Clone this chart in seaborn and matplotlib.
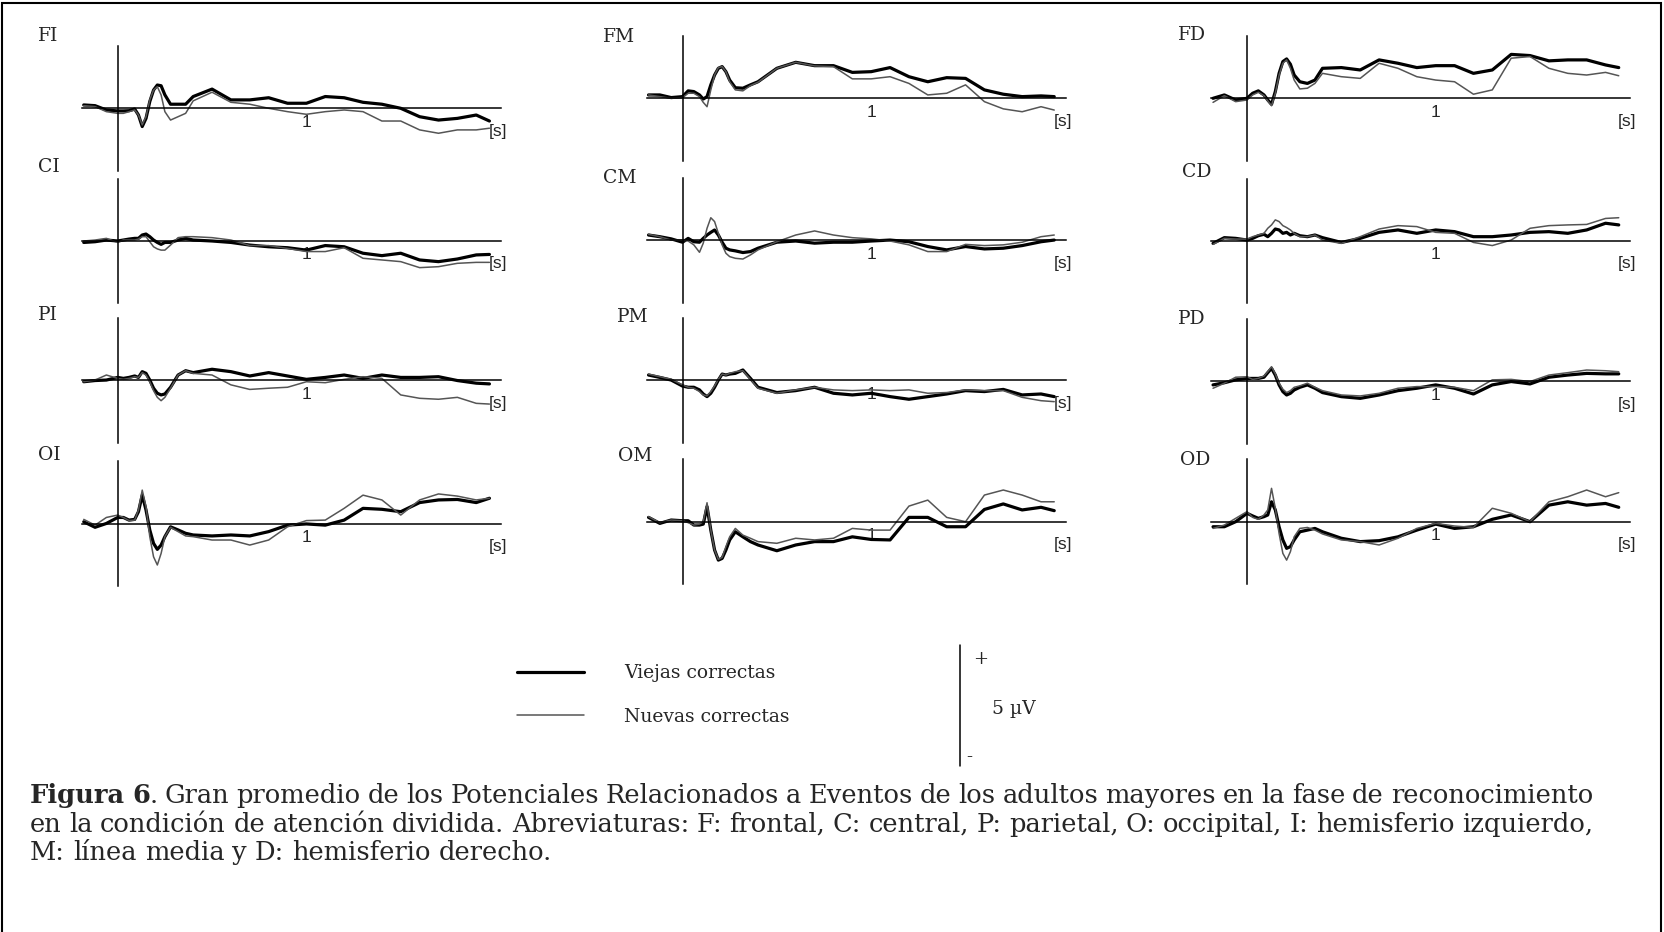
import matplotlib
matplotlib.use("Agg")
import matplotlib.pyplot as plt
from matplotlib.lines import Line2D
from matplotlib.patches import Rectangle
import seaborn as sns

# =========================
# DATA (time in s, amplitude in microvolts)
# =========================

t_s = [-0.18, -0.12, -0.06, 0.0, 0.03, 0.06, 0.09, 0.11, 0.13, 0.15, 0.17, 0.19,
       0.21, 0.23, 0.25, 0.28, 0.32, 0.36, 0.4, 0.5, 0.6, 0.7, 0.8, 0.9, 1.0,
       1.1, 1.2, 1.3, 1.4, 1.5, 1.6, 1.7, 1.8, 1.9, 1.97]

fi_viejas = [0.14, 0.11, -0.07, -0.11, -0.11, -0.1, -0.03, -0.28, -0.76, -0.42, 0.28, 0.76, 0.97, 0.94, 0.56, 0.17, 0.17, 0.17,
             0.49, 0.8, 0.35, 0.35, 0.44, 0.21, 0.21, 0.49, 0.44, 0.25, 0.17, 0.0, -0.35, -0.49, -0.42, -0.28, -0.53]
fi_nuevas = [0.11, 0.07, -0.14, -0.21, -0.21, -0.14, -0.07, -0.28, -0.69, -0.35, 0.35, 0.76, 0.9, 0.56, -0.14, -0.49, -0.35, -0.21,
             0.31, 0.67, 0.25, 0.17, 0.0, -0.14, -0.25, -0.14, -0.07, -0.14, -0.53, -0.53, -0.9, -1.04, -0.9, -0.9, -0.83]
fm_viejas = [0.14, 0.14, 0.03, 0.07, 0.31, 0.28, 0.14, -0.03, 0.07, 0.56, 0.97, 1.25, 1.32, 1.11, 0.76, 0.44, 0.42, 0.56,
             0.69, 1.25, 1.5, 1.36, 1.36, 1.08, 1.11, 1.28, 0.9, 0.69, 0.86, 0.83, 0.35, 0.17, 0.07, 0.1, 0.07]
fm_nuevas = [0.14, 0.07, 0.0, 0.03, 0.21, 0.21, 0.07, -0.17, -0.35, 0.35, 0.97, 1.28, 1.32, 1.11, 0.69, 0.35, 0.31, 0.53,
             0.67, 1.25, 1.5, 1.35, 1.32, 0.81, 0.81, 0.9, 0.62, 0.14, 0.21, 0.56, -0.14, -0.44, -0.56, -0.35, -0.49]
fd_viejas = [0.0, 0.14, -0.07, 0.0, 0.21, 0.31, 0.14, -0.07, -0.25, 0.28, 1.04, 1.53, 1.64, 1.42, 0.97, 0.69, 0.62, 0.76,
             1.25, 1.28, 1.18, 1.6, 1.46, 1.28, 1.36, 1.36, 1.04, 1.18, 1.83, 1.78, 1.56, 1.6, 1.6, 1.39, 1.28]
fd_nuevas = [-0.17, 0.11, -0.14, -0.07, 0.14, 0.25, 0.11, -0.11, -0.31, 0.21, 0.97, 1.46, 1.6, 1.25, 0.76, 0.39, 0.42, 0.62,
             1.04, 0.9, 0.83, 1.46, 1.25, 0.9, 0.76, 0.69, 0.17, 0.35, 1.67, 1.74, 1.25, 1.04, 0.97, 1.08, 0.94]

ci_viejas = [-0.06, -0.03, 0.04, 0.0, 0.04, 0.08, 0.11, 0.11, 0.25, 0.29, 0.18, 0.04, -0.06, -0.14, -0.06, -0.06, 0.04, 0.11,
             0.04, 0.0, -0.06, -0.17, -0.24, -0.28, -0.38, -0.19, -0.24, -0.51, -0.61, -0.51, -0.79, -0.86, -0.75, -0.58, -0.56]
ci_nuevas = [0.0, 0.04, 0.11, -0.06, 0.04, 0.04, 0.04, 0.08, 0.18, 0.18, -0.03, -0.24, -0.33, -0.38, -0.38, -0.17, 0.14, 0.18,
             0.18, 0.14, 0.04, -0.19, -0.19, -0.31, -0.44, -0.44, -0.28, -0.72, -0.79, -0.86, -1.11, -1.07, -0.93, -0.89, -0.89]
cm_viejas = [0.22, 0.15, 0.06, -0.08, 0.08, -0.06, -0.08, 0.08, 0.22, 0.33, 0.43, 0.22, -0.08, -0.33, -0.4, -0.44, -0.51, -0.47,
             -0.33, -0.08, -0.03, -0.12, -0.08, -0.08, -0.03, 0.01, -0.06, -0.26, -0.4, -0.26, -0.36, -0.33, -0.22, -0.06, 0.01]
cm_nuevas = [0.25, 0.15, 0.01, 0.01, -0.03, -0.19, -0.5, -0.12, 0.5, 0.94, 0.78, 0.29, -0.19, -0.54, -0.68, -0.75, -0.78, -0.61,
             -0.4, -0.06, 0.22, 0.39, 0.22, 0.11, 0.06, -0.03, -0.19, -0.47, -0.47, -0.17, -0.22, -0.19, -0.08, 0.15, 0.22]
cd_viejas = [-0.1, 0.14, 0.11, 0.04, 0.11, 0.22, 0.28, 0.18, 0.32, 0.5, 0.46, 0.32, 0.36, 0.25, 0.32, 0.22, 0.18, 0.25,
             0.14, -0.06, 0.11, 0.36, 0.46, 0.32, 0.46, 0.39, 0.18, 0.18, 0.25, 0.36, 0.39, 0.32, 0.46, 0.74, 0.67]
cd_nuevas = [-0.14, 0.11, 0.08, 0.08, 0.18, 0.25, 0.32, 0.53, 0.67, 0.88, 0.81, 0.64, 0.56, 0.46, 0.32, 0.18, 0.18, 0.25,
             0.04, -0.1, 0.18, 0.5, 0.64, 0.6, 0.36, 0.32, -0.06, -0.19, 0.04, 0.53, 0.64, 0.67, 0.69, 0.94, 0.97]

pi_viejas = [-0.06, -0.01, 0.01, 0.12, 0.08, 0.12, 0.18, 0.12, 0.36, 0.29, 0.01, -0.33, -0.54, -0.61, -0.57, -0.29, 0.22, 0.4,
             0.32, 0.46, 0.36, 0.18, 0.32, 0.18, 0.04, 0.12, 0.22, 0.08, 0.22, 0.12, 0.12, 0.15, -0.01, -0.12, -0.15]
pi_nuevas = [-0.06, 0.01, 0.22, 0.08, 0.04, 0.08, 0.15, 0.12, 0.32, 0.22, -0.06, -0.43, -0.71, -0.85, -0.71, -0.33, 0.22, 0.4,
             0.29, 0.22, -0.19, -0.38, -0.33, -0.29, -0.06, -0.1, 0.04, 0.15, 0.08, -0.61, -0.75, -0.79, -0.71, -0.96, -0.99]
pm_viejas = [0.22, 0.12, 0.01, -0.24, -0.29, -0.29, -0.4, -0.57, -0.68, -0.54, -0.29, 0.01, 0.26, 0.22, 0.26, 0.29, 0.43, 0.08,
             -0.29, -0.51, -0.43, -0.29, -0.54, -0.61, -0.54, -0.68, -0.79, -0.68, -0.57, -0.43, -0.47, -0.38, -0.61, -0.57, -0.68]
pm_nuevas = [0.26, 0.15, 0.04, -0.19, -0.29, -0.33, -0.47, -0.61, -0.65, -0.47, -0.24, 0.04, 0.26, 0.22, 0.29, 0.36, 0.4, 0.04,
             -0.33, -0.54, -0.4, -0.29, -0.4, -0.43, -0.4, -0.43, -0.4, -0.54, -0.51, -0.4, -0.43, -0.43, -0.71, -0.85, -0.89]
pd_viejas = [-0.15, -0.06, 0.06, 0.12, 0.12, 0.12, 0.17, 0.36, 0.54, 0.26, -0.15, -0.43, -0.57, -0.5, -0.36, -0.25, -0.15, -0.29,
             -0.47, -0.64, -0.71, -0.57, -0.39, -0.29, -0.15, -0.29, -0.53, -0.15, -0.01, -0.11, 0.17, 0.26, 0.33, 0.31, 0.31]
pd_nuevas = [-0.29, -0.08, 0.17, 0.19, 0.08, 0.12, 0.22, 0.4, 0.61, 0.31, -0.08, -0.33, -0.47, -0.39, -0.25, -0.19, -0.08, -0.25,
             -0.39, -0.57, -0.61, -0.5, -0.29, -0.22, -0.22, -0.25, -0.39, 0.06, 0.08, -0.01, 0.26, 0.36, 0.47, 0.44, 0.4]

oi_viejas = [0.08, -0.15, 0.01, 0.26, 0.26, 0.15, 0.18, 0.5, 1.19, 0.57, -0.26, -0.82, -1.07, -0.89, -0.54, -0.13, -0.26, -0.4,
             -0.47, -0.51, -0.47, -0.51, -0.33, -0.06, -0.01, -0.06, 0.15, 0.64, 0.6, 0.5, 0.88, 0.99, 1.01, 0.88, 1.06]
oi_nuevas = [0.18, -0.06, 0.26, 0.36, 0.26, 0.13, 0.15, 0.57, 1.4, 0.71, -0.54, -1.38, -1.72, -1.24, -0.54, -0.15, -0.33, -0.51,
             -0.54, -0.68, -0.68, -0.89, -0.68, -0.13, 0.13, 0.15, 0.64, 1.19, 0.99, 0.36, 0.99, 1.24, 1.15, 0.99, 1.06]
om_viejas = [0.18, -0.07, 0.07, 0.04, 0.04, -0.14, -0.14, -0.1, 0.63, -0.35, -1.18, -1.6, -1.53, -1.18, -0.76, -0.42, -0.63, -0.83,
             -0.97, -1.21, -0.97, -0.83, -0.83, -0.63, -0.74, -0.76, 0.18, 0.18, -0.21, -0.21, 0.51, 0.74, 0.49, 0.6, 0.46]
om_nuevas = [0.21, -0.04, 0.07, 0.04, -0.04, -0.14, -0.1, 0.0, 0.79, -0.35, -1.18, -1.57, -1.49, -1.04, -0.63, -0.28, -0.56, -0.69,
             -0.83, -0.9, -0.69, -0.76, -0.69, -0.28, -0.35, -0.35, 0.65, 0.9, 0.18, 0.0, 1.11, 1.32, 1.11, 0.83, 0.83]
od_viejas = [-0.21, -0.21, 0.0, 0.35, 0.24, 0.14, 0.21, 0.28, 0.83, 0.49, -0.21, -0.76, -1.11, -1.04, -0.76, -0.42, -0.35, -0.28,
             -0.42, -0.69, -0.83, -0.79, -0.63, -0.35, -0.1, -0.28, -0.21, 0.1, 0.28, 0.0, 0.69, 0.83, 0.69, 0.76, 0.6]
od_nuevas = [-0.28, -0.14, 0.14, 0.42, 0.18, 0.1, 0.28, 0.49, 1.39, 0.56, -0.49, -1.32, -1.6, -1.25, -0.63, -0.28, -0.24, -0.35,
             -0.51, -0.76, -0.83, -0.97, -0.69, -0.28, -0.07, -0.18, -0.24, 0.56, 0.35, 0.0, 0.83, 1.04, 1.32, 1.04, 1.21]

panel_names = ["FI", "FM", "FD", "CI", "CM", "CD", "PI", "PM", "PD", "OI", "OM", "OD"]
viejas = [fi_viejas, fm_viejas, fd_viejas, ci_viejas, cm_viejas, cd_viejas,
          pi_viejas, pm_viejas, pd_viejas, oi_viejas, om_viejas, od_viejas]
nuevas = [fi_nuevas, fm_nuevas, fd_nuevas, ci_nuevas, cm_nuevas, cd_nuevas,
          pi_nuevas, pm_nuevas, pd_nuevas, oi_nuevas, om_nuevas, od_nuevas]

legend_labels = ["Viejas correctas", "Nuevas correctas"]
scale_label = "5 \u00b5V"
caption_lines = [
    "Figura 6. Gran promedio de los Potenciales Relacionados a Eventos de los adultos mayores en la fase de reconocimiento",
    "en la condición de atención dividida. Abreviaturas: F: frontal, C: central, P: parietal, O: occipital, I: hemisferio izquierdo,",
    "M: línea media y D: hemisferio derecho.",
]
caption_bold = "Figura 6"

# =========================
# LAYOUT (figure pixels, origin top-left)
# =========================

W, H = 1664, 932
col_x0 = [117.7, 682.5, 1247.0]
zero_y = [108.3, 98.3, 98.3, 241.0, 240.3, 241.0, 380.3, 380.3, 381.3, 523.7, 521.7, 521.7]
label_xy = [(38, 36), (603, 37), (1178, 35), (38, 167), (603, 178), (1182, 172),
            (38, 315), (617, 317), (1178, 319), (38, 455), (618, 456), (1180, 460)]
px_per_s = 188.7
px_per_uv = 24.0
xlim = (-0.19, 2.03)
ylim = (-2.6, 2.6)

SERIF = "DejaVu Serif"
SANS = "Liberation Sans"

sns.set_style("white")
plt.rcParams["font.family"] = [SERIF, "DejaVu Sans"]

fig = plt.figure(figsize=(W / 100, H / 100), dpi=100)

thick_lw = 2.3
thin_lw = 1.1
thin_color = "#555555"

first_ax = None
for i, name in enumerate(panel_names):
    x0 = col_x0[i % 3]
    left = x0 + xlim[0] * px_per_s
    width = (xlim[1] - xlim[0]) * px_per_s
    top = zero_y[i] - ylim[1] * px_per_uv
    height = (ylim[1] - ylim[0]) * px_per_uv
    ax = fig.add_axes([left / W, 1 - (top + height) / H, width / W, height / H])
    ax.set_facecolor("none")

    sns.lineplot(x=t_s, y=viejas[i], ax=ax, color="black", linewidth=thick_lw)
    sns.lineplot(x=t_s, y=nuevas[i], ax=ax, color=thin_color, linewidth=thin_lw)
    if first_ax is None:
        first_ax = ax

    ax.set_xlim(*xlim)
    ax.set_ylim(*ylim)
    ax.set_xlabel("")
    ax.set_ylabel("")
    for side in ["top", "right"]:
        ax.spines[side].set_visible(False)
    ax.spines["left"].set_position(("data", 0))
    ax.spines["bottom"].set_position(("data", 0))
    for side in ["left", "bottom"]:
        ax.spines[side].set_linewidth(1.1)
        ax.spines[side].set_color("black")

    ax.set_yticks([-2, -1, 1, 2])
    ax.set_yticklabels([])
    ax.tick_params(axis="y", direction="out", length=2.5, width=1.1, color="black")
    ax.set_xticks([1])
    ax.set_xticklabels(["1"], fontfamily=SANS, fontsize=12.5)
    ax.tick_params(axis="x", direction="inout", length=6, width=1.1, pad=1.5, color="black")

    ax.text(2.065, -0.95, "[s]", ha="right", va="center", fontsize=12.5,
            family=SANS, clip_on=False)

    lx, ly = label_xy[i]
    fig.text(lx / W, 1 - ly / H, name, ha="left", va="center", fontsize=13.5, family=SERIF)

# legend
handles = [first_ax.lines[0], first_ax.lines[1]]
fs_leg = 13.5
fs_px = fs_leg * 100 / 72
fig.legend(handles, legend_labels, loc="center left",
           bbox_to_anchor=(517 / W, 1 - 695 / H), frameon=False,
           fontsize=fs_leg, handlelength=67 / fs_px, handletextpad=40 / fs_px,
           labelspacing=1.35, borderpad=0, borderaxespad=0)

# amplitude scale bar
fig.add_artist(Line2D([960 / W, 960 / W], [1 - 645 / H, 1 - 766 / H],
                      transform=fig.transFigure, color="black", linewidth=1.1))
fig.text(973 / W, 1 - 659 / H, "+", ha="left", va="center", fontsize=13, family=SERIF)
fig.text(966 / W, 1 - 757 / H, "-", ha="left", va="center", fontsize=13, family=SERIF)
fig.text(992 / W, 1 - 709 / H, scale_label, ha="left", va="center", fontsize=13.5, family=SERIF)

# outer frame (bottom edge falls outside the image)
fig.add_artist(Rectangle((2 / W, -0.1), 1659 / W, 1.1 - 2.5 / H, transform=fig.transFigure,
                         fill=False, edgecolor="black", linewidth=1.5))

# caption, justified like the printed page
cap_fs = 18.5
cap_x0, cap_x1 = 30, 1593
cap_base = [803, 832, 860]
renderer = fig.canvas.get_renderer()


def run_width(s, weight):
    txt = fig.text(0, 0, s, fontsize=cap_fs, family=SERIF, weight=weight)
    w = txt.get_window_extent(renderer).width
    txt.remove()
    return w


def split_runs(line, nbold):
    words = []
    pos = 0
    for w in line.split(" "):
        runs = []
        if pos < nbold:
            cut = min(pos + len(w), nbold) - pos
            runs.append((w[:cut], "bold"))
            if w[cut:]:
                runs.append((w[cut:], "normal"))
        else:
            runs.append((w, "normal"))
        words.append(runs)
        pos += len(w) + 1
    return words


space_w = run_width("a a", "normal") - run_width("aa", "normal")
for li, line in enumerate(caption_lines):
    words = split_runs(line, len(caption_bold) if li == 0 else 0)
    widths = [sum(run_width(s, wt) for s, wt in runs) for runs in words]
    if li < len(caption_lines) - 1:
        gap = (cap_x1 - cap_x0 - sum(widths)) / (len(words) - 1)
    else:
        gap = space_w
    x = cap_x0
    for runs, ww in zip(words, widths):
        xr = x
        for s, wt in runs:
            fig.text(xr / W, 1 - cap_base[li] / H, s, ha="left", va="baseline",
                     fontsize=cap_fs, family=SERIF, weight=wt)
            xr += run_width(s, wt)
        x += ww + gap

fig.savefig("out.png", dpi=100, facecolor="white")
